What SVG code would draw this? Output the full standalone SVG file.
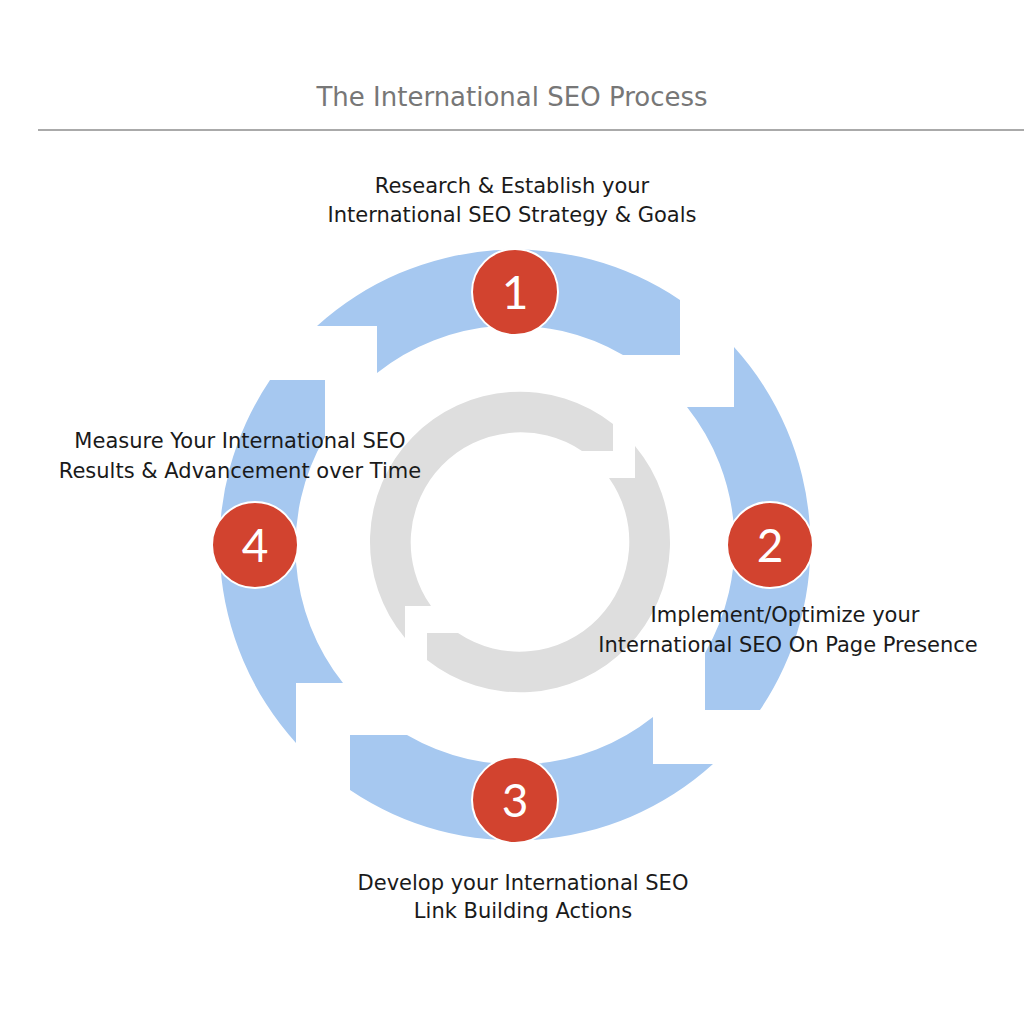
<svg xmlns="http://www.w3.org/2000/svg" xmlns:xlink="http://www.w3.org/1999/xlink" width="1024" height="1024" viewBox="0 0 1024 1024">
<style>
.blue{fill:#a6c8f0}
.gray{fill:#dedede}
.badge{fill:#d2432f;stroke:#ffffff;stroke-width:2}
.num{font-family:"Lato","DejaVu Sans",sans-serif;font-size:46px;fill:#ffffff;text-anchor:middle}
.lbl{font-family:"DejaVu Sans",sans-serif;font-size:21px;fill:#1a1a1a;text-anchor:middle}
.title{font-family:"DejaVu Sans",sans-serif;font-size:26px;fill:#777777;text-anchor:middle}
</style>
<defs>
<path id="seg" d="M317,326 A295,295 0 0 1 680,300 L680,355 L623,355 A219,219 0 0 0 377,373 L377,326 Z"/>
<path id="gseg" d="M635,446 A150,150 0 0 1 427,660 L427,633 L458,633 A110,110 0 0 0 609,478 L635,478 Z"/>
</defs>
<rect width="1024" height="1024" fill="#ffffff"/>
<text class="title" x="512" y="106">The International SEO Process</text>
<line x1="38" y1="130" x2="1024" y2="130" stroke="#aaaaaa" stroke-width="2"/>
<g id="connectors">
<use xlink:href="#seg" class="blue"/>
<use xlink:href="#seg" class="blue" transform="rotate(90 515 545)"/>
<use xlink:href="#seg" class="blue" transform="rotate(180 515 545)"/>
<use xlink:href="#seg" class="blue" transform="rotate(270 515 545)"/>
<use xlink:href="#gseg" class="gray"/>
<use xlink:href="#gseg" class="gray" transform="rotate(180 520 542)"/>
</g>
<g id="node1">
<circle class="badge" cx="515" cy="292" r="43"/>
<text class="num" x="515" y="309">1</text>
<text class="lbl" x="512" y="193">Research &amp; Establish your</text>
<text class="lbl" x="512" y="222">International SEO Strategy &amp; Goals</text>
</g>
<g id="node2">
<circle class="badge" cx="770" cy="545" r="43"/>
<text class="num" x="770" y="562">2</text>
<text class="lbl" x="785" y="622">Implement/Optimize your</text>
<text class="lbl" x="788" y="652">International SEO On Page Presence</text>
</g>
<g id="node3">
<circle class="badge" cx="515" cy="800" r="43"/>
<text class="num" x="515" y="817">3</text>
<text class="lbl" x="523" y="890">Develop your International SEO</text>
<text class="lbl" x="523" y="918">Link Building Actions</text>
</g>
<g id="node4">
<circle class="badge" cx="255" cy="545" r="43"/>
<text class="num" x="255" y="562">4</text>
<text class="lbl" x="240" y="448">Measure Your International SEO</text>
<text class="lbl" x="240" y="478">Results &amp; Advancement over Time</text>
</g>
</svg>
